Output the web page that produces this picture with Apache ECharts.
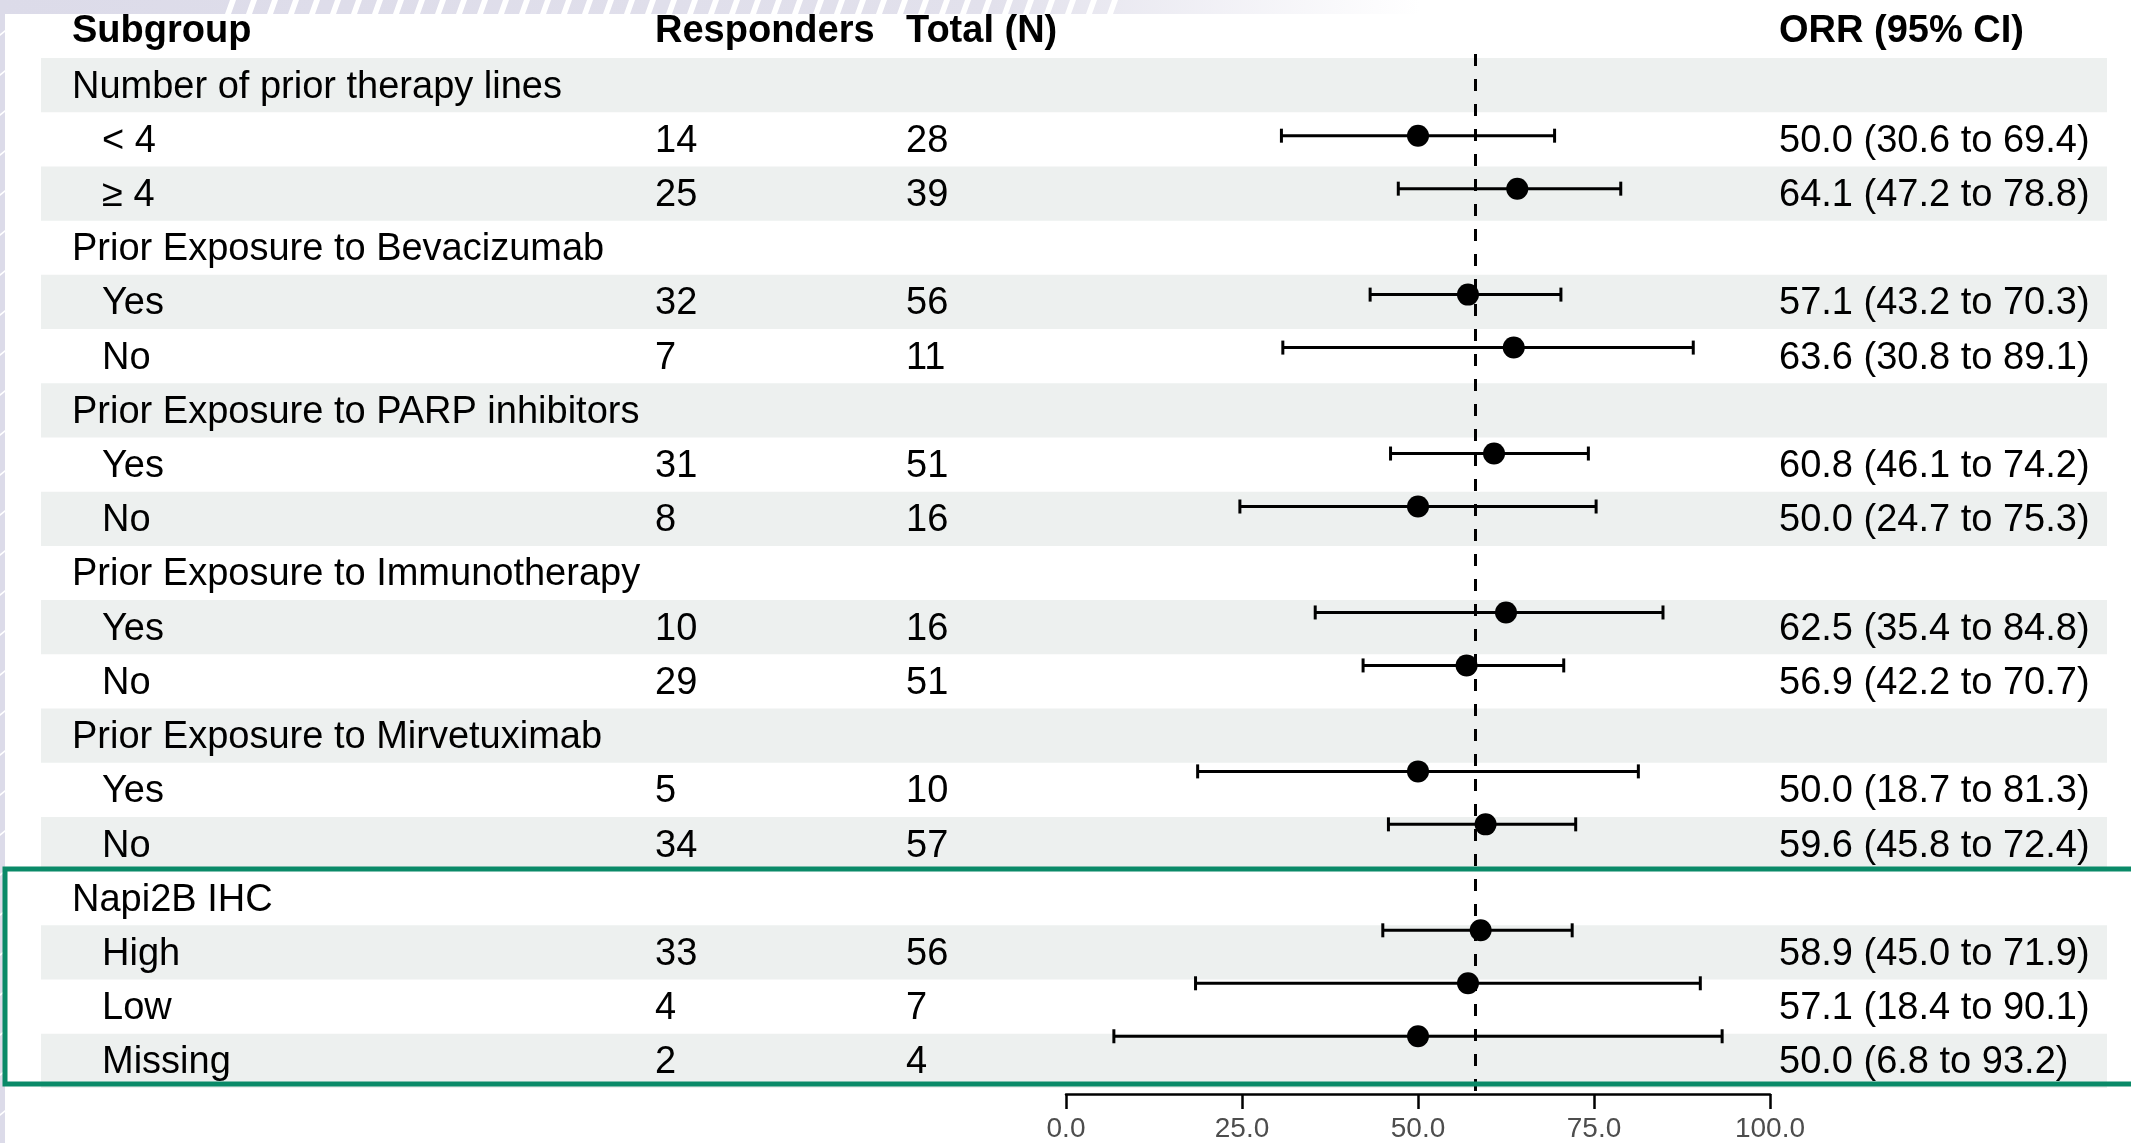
<!DOCTYPE html>
<html>
<head>
<meta charset="utf-8">
<title>ORR by subgroup</title>
<script src="https://cdn.jsdelivr.net/npm/echarts@6.0.0/dist/echarts.min.js"></script>
<style>
    html, body { margin: 0; padding: 0; background: #fff; }
    #main { width: 2131px; height: 1143px; }
</style>
</head>
<body>
<div id="main"></div>
<script>
// rows of the table, top to bottom (null = group heading row)
var subgroups = ['Number of prior therapy lines', '< 4', '\u2265 4',
    'Prior Exposure to Bevacizumab', 'Yes', 'No',
    'Prior Exposure to PARP inhibitors', 'Yes', 'No',
    'Prior Exposure to Immunotherapy', 'Yes', 'No',
    'Prior Exposure to Mirvetuximab', 'Yes', 'No',
    'Napi2B IHC', 'High', 'Low', 'Missing'];
var responders = [null, 14, 25, null, 32, 7, null, 31, 8, null, 10, 29, null, 5, 34, null, 33, 4, 2];
var totals = [null, 28, 39, null, 56, 11, null, 51, 16, null, 16, 51, null, 10, 57, null, 56, 7, 4];
var orr = [null, 50.0, 64.1, null, 57.1, 63.6, null, 60.8, 50.0, null, 62.5, 56.9, null, 50.0, 59.6, null, 58.9, 57.1, 50.0];
var ciLow = [null, 30.6, 47.2, null, 43.2, 30.8, null, 46.1, 24.7, null, 35.4, 42.2, null, 18.7, 45.8, null, 45.0, 18.4, 6.8];
var ciHigh = [null, 69.4, 78.8, null, 70.3, 89.1, null, 74.2, 75.3, null, 84.8, 70.7, null, 81.3, 72.4, null, 71.9, 90.1, 93.2];
var overallOrr = 58.2;
var xTicks = [0, 25, 50, 75, 100];
var headers = ['Subgroup', 'Responders', 'Total (N)', 'ORR (95% CI)'];

var FONT = '"Liberation Sans", Arial, Helvetica, sans-serif';
var colX = { group: 72, sub: 102, resp: 655, total: 906, orr: 1779 };

var chart = echarts.init(document.getElementById('main'));

function fmt(v) {
    return v.toFixed(1);
}

function txt(x, y, s, bold) {
    return {
        type: 'text',
        x: x,
        y: y,
        style: {
            text: s,
            fill: '#000',
            fontSize: 38,
            fontWeight: bold ? 'bold' : 'normal',
            fontFamily: FONT,
            align: 'left',
            verticalAlign: 'middle'
        }
    };
}

// table: striped rows + text columns
function renderRow(params, api) {
    var i = api.value(0);
    var p = api.coord([0, i]);
    var h = api.size([0, 1])[1];
    var ty = p[1] + 2;
    var children = [];
    if (i % 2 === 0) {
        children.push({
            type: 'rect',
            shape: { x: 41, y: p[1] - h / 2, width: 2066, height: h },
            style: { fill: '#edf0ef' }
        });
    }
    if (responders[i] === null) {
        children.push(txt(colX.group, ty, subgroups[i]));
    } else {
        children.push(txt(colX.sub, ty, subgroups[i]));
        children.push(txt(colX.resp, ty, String(responders[i])));
        children.push(txt(colX.total, ty, String(totals[i])));
        children.push(txt(colX.orr, ty, fmt(orr[i]) + ' (' + fmt(ciLow[i]) + ' to ' + fmt(ciHigh[i]) + ')'));
    }
    return { type: 'group', children: children };
}

// whiskers with end caps
function renderCI(params, api) {
    var row = api.value(0);
    var a = api.coord([api.value(1), row]);
    var b = api.coord([api.value(2), row]);
    var cap = 7;
    var st = { stroke: '#000', lineWidth: 3 };
    return {
        type: 'group',
        children: [
            { type: 'line', shape: { x1: a[0], y1: a[1], x2: b[0], y2: b[1] }, style: st },
            { type: 'line', shape: { x1: a[0], y1: a[1] - cap, x2: a[0], y2: a[1] + cap }, style: st },
            { type: 'line', shape: { x1: b[0], y1: b[1] - cap, x2: b[0], y2: b[1] + cap }, style: st }
        ]
    };
}

var rowData = [];
var ciData = [];
var pointData = [];
for (var i = 0; i < subgroups.length; i++) {
    rowData.push([i]);
    if (orr[i] !== null) {
        ciData.push([i, ciLow[i], ciHigh[i]]);
        pointData.push([orr[i], i]);
    }
}

// slide decoration (top band and left strip)
var decor = [];
decor.push({
    type: 'rect', z: 0, silent: true,
    shape: { x: 0, y: 0, width: 1420, height: 14 },
    style: {
        fill: new echarts.graphic.LinearGradient(0, 0, 1, 0, [
            { offset: 0, color: '#dcdbe9' },
            { offset: 0.7, color: '#e2e1ec' },
            { offset: 1, color: 'rgba(226,225,236,0)' }
        ])
    }
});
for (var sx = 225; sx < 1120; sx += 21) {
    decor.push({
        type: 'polygon', z: 1, silent: true,
        shape: { points: [[sx + 5, 0], [sx + 11, 0], [sx + 6, 14], [sx, 14]] },
        style: { fill: '#fff' }
    });
}
decor.push({
    type: 'rect', z: 0, silent: true,
    shape: { x: 0, y: 0, width: 5, height: 1143 },
    style: { fill: '#dcdbe9' }
});
for (var sy = 30; sy < 1143; sy += 40) {
    decor.push({
        type: 'polygon', z: 1, silent: true,
        shape: { points: [[0, sy + 4], [5, sy], [5, sy + 2], [0, sy + 6]] },
        style: { fill: '#fff' }
    });
}

var headerX = [colX.group, colX.resp, colX.total, colX.orr];
var graphics = decor.slice();
for (var k = 0; k < headers.length; k++) {
    var h = txt(headerX[k], 32, headers[k], true);
    h.z = 10;
    graphics.push(h);
}
// highlight box round the Napi2B rows
graphics.push({
    type: 'rect', z: 100, silent: true,
    shape: { x: 5, y: 869, width: 2200, height: 215 },
    style: { fill: null, stroke: '#0a8a68', lineWidth: 5 }
});

var option = {
    animation: false,
    backgroundColor: '#fff',
    graphic: graphics,
    grid: [
        { left: 0, right: 0, top: 58, height: 1030 },
        { left: 1066, width: 704, top: 54, height: 1044 }
    ],
    xAxis: [
        { gridIndex: 0, type: 'value', min: 0, max: 2131, show: false },
        {
            gridIndex: 1,
            type: 'value',
            min: xTicks[0],
            max: xTicks[xTicks.length - 1],
            interval: xTicks[1] - xTicks[0],
            axisLine: { onZero: false, lineStyle: { color: '#000', width: 2.5 } },
            axisTick: { length: 15, lineStyle: { color: '#000', width: 2.5 } },
            axisLabel: {
                margin: 21,
                fontSize: 28,
                color: '#4d4d4d',
                fontFamily: FONT,
                formatter: function (v) { return fmt(v); }
            },
            splitLine: { show: false }
        }
    ],
    yAxis: [
        {
            gridIndex: 0, type: 'category', inverse: true, show: false,
            data: subgroups.map(function (s, i) { return String(i); })
        },
        { gridIndex: 1, type: 'value', inverse: true, min: -0.542, max: 19.09, show: false }
    ],
    series: [
        {
            type: 'custom',
            xAxisIndex: 0, yAxisIndex: 0,
            renderItem: renderRow,
            data: rowData,
            encode: { y: 0 },
            z: 1,
            silent: true
        },
        {
            type: 'custom',
            xAxisIndex: 1, yAxisIndex: 1,
            renderItem: renderCI,
            data: ciData,
            encode: { x: [1, 2], y: 0 },
            z: 5,
            silent: true
        },
        {
            type: 'scatter',
            xAxisIndex: 1, yAxisIndex: 1,
            data: pointData,
            symbol: 'circle',
            symbolSize: 22,
            itemStyle: { color: '#000', opacity: 1 },
            z: 7,
            silent: true,
            markLine: {
                silent: true,
                symbol: 'none',
                label: { show: false },
                lineStyle: { color: '#000', width: 3, type: [12, 13] },
                data: [{ xAxis: overallOrr }]
            }
        }
    ]
};

chart.setOption(option);
</script>
</body>
</html>
